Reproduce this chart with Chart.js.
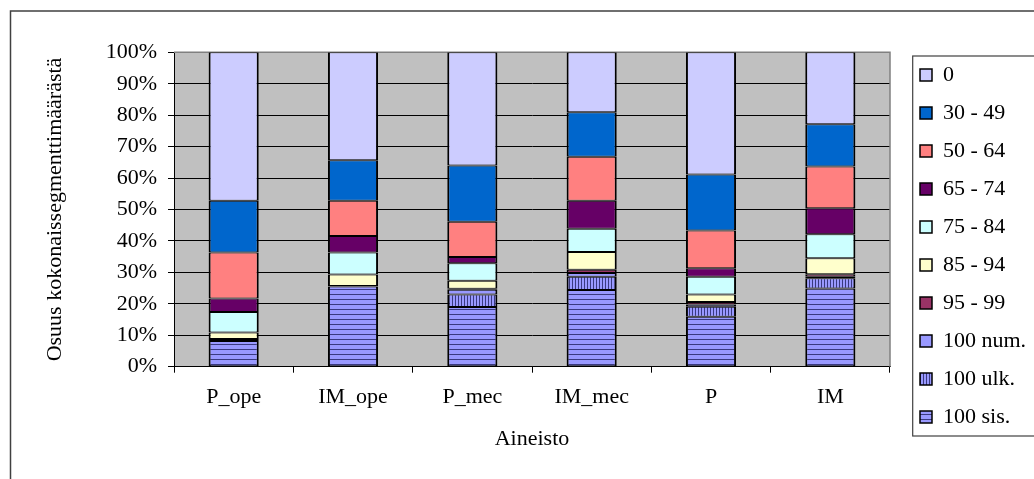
<!DOCTYPE html>
<html><head><meta charset="utf-8">
<script src="https://cdn.jsdelivr.net/npm/chart.js@4.4.1/dist/chart.umd.min.js"></script>
<style>html,body{margin:0;padding:0;background:#fff;overflow:hidden;} #wrap{width:1034px;height:479px;position:relative;}</style>
</head><body><div id="wrap"><canvas id="c" width="1034" height="479"></canvas></div>
<script>
// ---- data (percent of segments) ----
const categories = ['P_ope', 'IM_ope', 'P_mec', 'IM_mec', 'P', 'IM'];
const seriesLabels = ['100 sis.', '100 ulk.', '100 num.', '95 - 99', '85 - 94', '75 - 84', '65 - 74', '50 - 64', '30 - 49', '0'];
const s100sis = [8.2, 25.5, 19.0, 24.4, 15.9, 24.9];
const s100ulk = [0.0, 0.0, 4.0, 4.2, 3.2, 3.2];
const s100num = [0.3, 0.0, 1.5, 1.2, 0.7, 0.5];
const s95_99 = [0.3, 0.2, 0.3, 1.0, 0.8, 0.8];
const s85_94 = [2.1, 3.6, 2.5, 5.7, 2.4, 5.1];
const s75_84 = [6.5, 7.0, 5.6, 7.4, 5.6, 7.6];
const s65_74 = [4.3, 5.3, 2.0, 8.9, 2.7, 8.3];
const s50_64 = [14.6, 11.2, 11.2, 14.0, 12.0, 13.3];
const s30_49 = [16.5, 12.9, 17.9, 14.1, 17.8, 13.4];
const s0 = [47.2, 34.3, 36.0, 19.1, 38.9, 22.9];
const yTickValues = [0, 10, 20, 30, 40, 50, 60, 70, 80, 90, 100];

const FONT = "'Liberation Serif', 'Times New Roman', serif";

function makePattern(kind) {
  const c = document.createElement('canvas');
  const g = c.getContext('2d');
  if (kind === 'h') {
    c.width = 8; c.height = 5;
    g.fillStyle = '#9999FF'; g.fillRect(0, 0, 8, 5);
    g.fillStyle = '#3A3A80'; g.fillRect(0, 4, 8, 1);
  } else {
    c.width = 3; c.height = 8;
    g.fillStyle = '#9999FF'; g.fillRect(0, 0, 3, 8);
    g.fillStyle = '#3A3A80'; g.fillRect(2, 0, 1, 8);
  }
  return document.getElementById('c').getContext('2d').createPattern(c, 'repeat');
}

const seriesData = [s100sis, s100ulk, s100num, s95_99, s85_94, s75_84, s65_74, s50_64, s30_49, s0];
const seriesColors = [makePattern('h'), makePattern('v'), '#9999FF', '#993366', '#FFFFCC', '#CCFFFF', '#660066', '#FF8080', '#0066CC', '#CCCCFF'];

const datasets = seriesLabels.map((lab, i) => ({
  label: lab,
  data: seriesData[i],
  backgroundColor: seriesColors[i],
  borderColor: '#000',
  borderWidth: {top: 1, bottom: 1, left: 2, right: 2},
  borderSkipped: false,
  categoryPercentage: 1.0,
  barPercentage: 0.42,
  stack: 's'
}));

const LEGEND_W = 144;

const framePlugin = {
  id: 'frame',
  beforeLayout(chart) {
    const lg = chart.legend;
    if (lg && !lg._fitWrapped) {
      const orig = lg.fit;
      lg.fit = function () { orig.apply(this, arguments); this.width = LEGEND_W; };
      lg._fitWrapped = true;
    }
  },
  afterLayout(chart) {
    const lg = chart.legend, ca = chart.chartArea;
    lg.left = ca.right + 14;
    lg.right = lg.left + LEGEND_W;
    lg.top = ca.top - 4.3;
    lg.bottom = chart.height;
  },
  beforeDraw(chart) {
    const {ctx, chartArea: ca} = chart;
    ctx.save();
    ctx.fillStyle = '#fff';
    ctx.fillRect(0, 0, chart.width, chart.height);
    ctx.fillStyle = '#C0C0C0';
    ctx.fillRect(ca.left, ca.top, ca.right - ca.left, ca.bottom - ca.top);
    ctx.restore();
  },
  beforeDatasetsDraw(chart) {
    const {ctx, chartArea: ca} = chart;
    ctx.save();
    ctx.strokeStyle = '#808080';
    ctx.lineWidth = 1.5;
    ctx.beginPath();
    ctx.moveTo(ca.left, ca.top);
    ctx.lineTo(ca.right, ca.top);
    ctx.lineTo(ca.right, ca.bottom);
    ctx.stroke();
    ctx.restore();
  },
  afterDraw(chart) {
    const {ctx} = chart;
    const lg = chart.legend;
    ctx.save();
    ctx.strokeStyle = '#404040';
    ctx.lineWidth = 1.5;
    ctx.strokeRect(10.5, 11, chart.width + 20, chart.height + 20);
    ctx.lineWidth = 1.2;
    ctx.strokeRect(lg.left + 8.7, lg.top + 8, 200, 380);
    ctx.restore();
  }
};

new Chart(document.getElementById('c'), {
  type: 'bar',
  data: {labels: categories, datasets: datasets},
  plugins: [framePlugin],
  options: {
    responsive: false,
    animation: false,
    devicePixelRatio: 1,
    layout: {padding: {top: 52.3, left: 0, right: 0, bottom: 0}},
    plugins: {
      tooltip: {enabled: false},
      legend: {
        position: 'right',
        align: 'start',
        reverse: true,
        labels: {
          boxWidth: 12, boxHeight: 12, padding: 16, color: '#000',
          font: {family: FONT, size: 22}
        }
      }
    },
    scales: {
      x: {
        stacked: true,
        afterFit(scale) { scale.height = 479 - 366.7; },
        grid: {offset: true, drawOnChartArea: false, drawTicks: true, tickLength: 6, tickColor: '#000', tickWidth: 1},
        border: {color: '#000', width: 1},
        ticks: {color: '#000', font: {family: FONT, size: 22}, padding: 11},
        title: {display: true, text: 'Aineisto', color: '#000', font: {family: FONT, size: 22}, padding: {top: 0, bottom: 26.8}}
      },
      y: {
        stacked: true,
        min: 0, max: 100,
        afterFit(scale) { scale.width = 174; },
        afterBuildTicks(scale) { scale.ticks = yTickValues.map(v => ({value: v})); },
        grid: {
          color: (c) => (c.tick && c.tick.value === 100) ? '#808080' : '#000',
          tickColor: '#000', tickLength: 6, lineWidth: 1
        },
        border: {color: '#000', width: 1},
        ticks: {color: '#000', font: {family: FONT, size: 22}, padding: 11, callback: (v) => v + '%'},
        title: {display: true, text: 'Osuus kokonaissegmenttimäärästä', color: '#000', font: {family: FONT, size: 22}, padding: {top: 42, bottom: 0}}
      }
    }
  }
});
</script>
</body></html>
